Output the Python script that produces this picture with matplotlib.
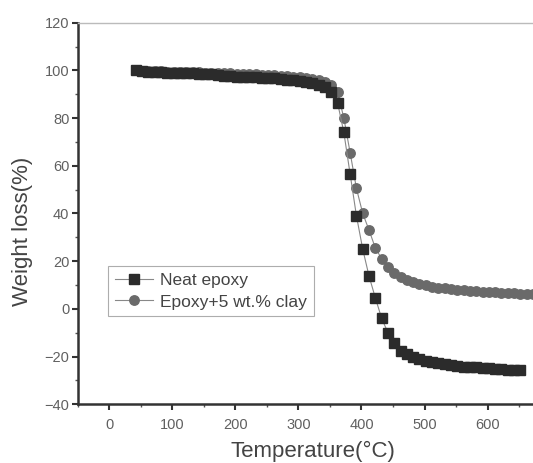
import matplotlib
matplotlib.use("Agg")
import matplotlib.pyplot as plt
from matplotlib.ticker import MultipleLocator

plt.rcParams['font.family'] = ['Liberation Sans', 'DejaVu Sans']

# TGA curves
temp_neat = [42, 52, 62, 72, 82, 92, 102, 112, 122, 132, 142, 152, 162, 172, 182,
             192, 202, 212, 222, 232, 242, 252, 262, 272, 282, 292, 302, 312, 322,
             332, 342, 352, 362, 372, 382, 392, 402, 412, 422, 432, 442, 452, 462,
             472, 482, 492, 502, 512, 522, 532, 542, 552, 562, 572, 582, 592, 602,
             612, 622, 632, 642, 652]
neat_epoxy = [100.0, 99.6, 99.4, 99.3, 99.2, 99.1, 99.0, 98.9, 98.8, 98.7, 98.6,
              98.5, 98.3, 98.0, 97.6, 97.5, 97.4, 97.3, 97.2, 97.1, 97.0, 96.9,
              96.7, 96.4, 96.1, 95.9, 95.6, 95.2, 94.7, 94.0, 93.0, 91.0, 86.5,
              74.0, 56.5, 39.0, 25.0, 13.7, 4.6, -4.0, -10.0, -14.5, -17.5, -19.0,
              -20.0, -21.0, -21.7, -22.3, -22.8, -23.2, -23.6, -24.0, -24.2, -24.4,
              -24.6, -24.8, -25.0, -25.2, -25.4, -25.5, -25.6, -25.8]

temp_clay = [42, 52, 62, 72, 82, 92, 102, 112, 122, 132, 142, 152, 162, 172, 182,
             192, 202, 212, 222, 232, 242, 252, 262, 272, 282, 292, 302, 312, 322,
             332, 342, 352, 362, 372, 382, 392, 402, 412, 422, 432, 442, 452, 462,
             472, 482, 492, 502, 512, 522, 532, 542, 552, 562, 572, 582, 592, 602,
             612, 622, 632, 642, 652, 662, 672]
epoxy_clay = [100.0, 99.8, 99.7, 99.6, 99.6, 99.5, 99.5, 99.4, 99.4, 99.3, 99.2,
              99.1, 99.0, 98.9, 98.8, 98.7, 98.6, 98.5, 98.4, 98.3, 98.2, 98.1,
              98.0, 97.8, 97.6, 97.4, 97.1, 96.8, 96.4, 96.0, 95.3, 94.0, 91.0,
              80.0, 65.5, 50.5, 40.0, 33.0, 25.5, 21.0, 17.5, 15.2, 13.5, 12.2,
              11.2, 10.4, 9.8, 9.3, 8.9, 8.6, 8.3, 8.0, 7.8, 7.6, 7.4, 7.2, 7.0,
              6.9, 6.8, 6.6, 6.5, 6.4, 6.3, 6.2]

x_ticks = [0, 100, 200, 300, 400, 500, 600]

fig = plt.figure(figsize=(5.33, 4.63), dpi=100)
ax = fig.add_axes([0.146, 0.127, 0.887, 0.824])

ax.plot(temp_neat, neat_epoxy, color='#888888', lw=0.8, marker='s', ms=6.8,
        mfc='#2b2b2b', mec='#2b2b2b', label='Neat epoxy', zorder=3)
ax.plot(temp_clay, epoxy_clay, color='#888888', lw=0.8, marker='o', ms=6.8,
        mfc='#6a6a6a', mec='#6a6a6a', label='Epoxy+5 wt.% clay', zorder=2)

ax.set_xlim(-50, 700)
ax.set_ylim(-40, 120)
ax.set_xticks(x_ticks)
ax.xaxis.set_minor_locator(MultipleLocator(50))
ax.yaxis.set_major_locator(MultipleLocator(20))
ax.yaxis.set_minor_locator(MultipleLocator(10))

ax.spines['left'].set_linewidth(1.8)
ax.spines['bottom'].set_linewidth(1.8)
ax.spines['left'].set_color('#333333')
ax.spines['bottom'].set_color('#333333')
ax.spines['top'].set_color('#bbbbbb')
ax.spines['top'].set_linewidth(1.0)
ax.spines['right'].set_visible(False)

ax.tick_params(which='major', direction='out', length=4, width=1.5, color='#333333',
               labelsize=10.5, labelcolor='#606060', pad=6)
ax.tick_params(which='minor', direction='out', length=2, width=1.0, color='#555555')
ax.tick_params(axis='y', which='major', pad=2)
ax.tick_params(top=False, right=False, which='both')

ax.set_xlabel('Temperature(°C)', fontsize=16, color='#444444')
ax.set_ylabel('Weight loss(%)', fontsize=16, color='#444444')
ax.xaxis.set_label_coords(0.498, -0.095)
ax.yaxis.set_label_coords(-0.094, 0.454)

leg = ax.legend(loc='lower left', bbox_to_anchor=(0.064, 0.23), fontsize=12.5,
                frameon=True, fancybox=False, edgecolor='#999999',
                handlelength=2.2, handletextpad=0.4, borderpad=0.4,
                labelspacing=0.35, borderaxespad=0)
leg.get_frame().set_linewidth(0.8)
for t in leg.get_texts():
    t.set_color('#444444')

fig.savefig('out.png', dpi=100)
